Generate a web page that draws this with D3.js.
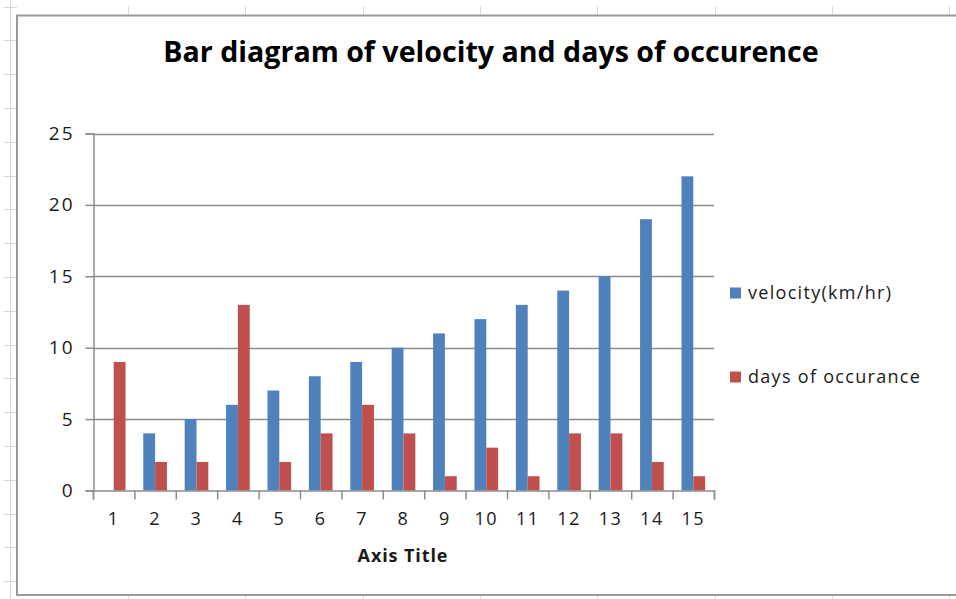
<!DOCTYPE html>
<html>
<head>
<meta charset="utf-8">
<script src="https://cdn.jsdelivr.net/npm/d3@7.9.0/dist/d3.min.js"></script>
<style>
  body { margin: 0; background: #fff; }
  svg { display: block; font-family: "Open Sans", Lato, sans-serif; }
</style>
</head>
<body>
<svg id="chart" width="956" height="599"></svg>
<script>
// data
const categories = ["1","2","3","4","5","6","7","8","9","10","11","12","13","14","15"];
const velocity = [0, 4, 5, 6, 7, 8, 9, 10, 11, 12, 13, 14, 15, 19, 22];
const days = [9, 2, 2, 13, 2, 4, 6, 4, 1, 3, 1, 4, 4, 2, 1];
const seriesNames = ["velocity(km/hr)", "days of occurance"];
const seriesColors = ["#4F81BD", "#C0504D"];
const yTicks = [0, 5, 10, 15, 20, 25];

const svg = d3.select("#chart");

// spreadsheet grid behind the chart
const sheet = svg.append("g").attr("stroke", "#dadada").attr("stroke-width", 1);
sheet.append("line").attr("x1", 10.5).attr("x2", 10.5).attr("y1", 0).attr("y2", 599);
d3.range(6.5, 599, 33.8).forEach(y => {
  sheet.append("line").attr("x1", 4).attr("x2", 17).attr("y1", Math.round(y) + 0.5).attr("y2", Math.round(y) + 0.5);
});
d3.range(128, 956, 117.3).forEach(x => {
  const px = Math.round(x) + 0.5;
  sheet.append("line").attr("x1", px).attr("x2", px).attr("y1", 6).attr("y2", 16);
  sheet.append("line").attr("x1", px).attr("x2", px).attr("y1", 595).attr("y2", 599);
});

// chart border (right side runs off the image)
svg.append("rect")
  .attr("x", 17).attr("y", 15.5).attr("width", 960).attr("height", 579.5)
  .attr("fill", "#fff").attr("stroke", "#9a9a9a").attr("stroke-width", 2);

// scales
const x = d3.scaleBand().domain(categories).range([93, 714]);
const xEdge = d3.scaleLinear().domain([0, categories.length]).range([93, 714]);
const xSub = d3.scaleBand().domain(seriesNames).range([0, x.bandwidth()]).paddingOuter(0.75);
const y = d3.scaleLinear().domain([0, 25]).range([490.5, 133.5]);

// gridlines
svg.append("g")
  .selectAll("line").data(yTicks.slice(1)).join("line")
  .attr("x1", 93).attr("x2", 714)
  .attr("y1", d => Math.round(y(d)) + 0.5).attr("y2", d => Math.round(y(d)) + 0.5)
  .attr("stroke", "#8c8c8c").attr("stroke-width", 1.5);

// bars
const series = [velocity, days];
series.forEach((vals, si) => {
  svg.append("g")
    .selectAll("rect").data(vals).join("rect")
    .attr("x", (d, i) => x(categories[i]) + xSub(seriesNames[si]))
    .attr("width", xSub.bandwidth())
    .attr("y", d => y(d))
    .attr("height", d => y(0) - y(d))
    .attr("fill", seriesColors[si]);
});

// y axis
const yAxis = svg.append("g")
  .attr("transform", "translate(93.5,0)")
  .call(d3.axisLeft(y).tickValues(yTicks).tickSize(8).tickPadding(11));
yAxis.select(".domain").attr("stroke", "#8c8c8c").attr("stroke-width", 1.5);
yAxis.selectAll(".tick line").attr("stroke", "#8c8c8c").attr("stroke-width", 1.5);
yAxis.selectAll("text").attr("font-size", 19).attr("letter-spacing", 2)
  .attr("fill", "#1a1a1a").attr("font-family", "Open Sans");

// x axis: ticks on category edges, labels at centres
const xTickAxis = svg.append("g")
  .attr("transform", "translate(0,490.5)")
  .call(d3.axisBottom(xEdge).tickValues(d3.range(0, categories.length + 1)).tickSize(9).tickFormat(""));
xTickAxis.select(".domain").attr("stroke", "#8c8c8c").attr("stroke-width", 1.5);
xTickAxis.selectAll(".tick line").attr("stroke", "#8c8c8c").attr("stroke-width", 1.5);

const xLabelAxis = svg.append("g")
  .attr("transform", "translate(0,490.5)")
  .call(d3.axisBottom(x).tickSize(0).tickPadding(22));
xLabelAxis.select(".domain").remove();
xLabelAxis.selectAll("text").attr("font-size", 18).attr("letter-spacing", 1.5)
  .attr("fill", "#1a1a1a").attr("font-family", "Open Sans");

// titles
svg.append("text")
  .attr("x", 491).attr("y", 62)
  .attr("text-anchor", "middle")
  .attr("font-size", 28.6).attr("font-weight", "bold").attr("fill", "#000")
  .text("Bar diagram of velocity and days of occurence");

svg.append("text")
  .attr("x", 403).attr("y", 562)
  .attr("text-anchor", "middle")
  .attr("font-size", 18).attr("font-weight", "bold").attr("letter-spacing", 0.9).attr("fill", "#1a1a1a")
  .text("Axis Title");

// legend
const legend = svg.append("g");
seriesNames.forEach((name, i) => {
  const ly = 293 + i * 84;
  legend.append("rect")
    .attr("x", 730).attr("y", ly - 5.5).attr("width", 11).attr("height", 11)
    .attr("fill", seriesColors[i]);
  legend.append("text")
    .attr("x", 748).attr("y", ly).attr("dy", "0.35em")
    .attr("font-size", 18).attr("letter-spacing", 1.3).attr("fill", "#1a1a1a")
    .text(name);
});
</script>
</body>
</html>
